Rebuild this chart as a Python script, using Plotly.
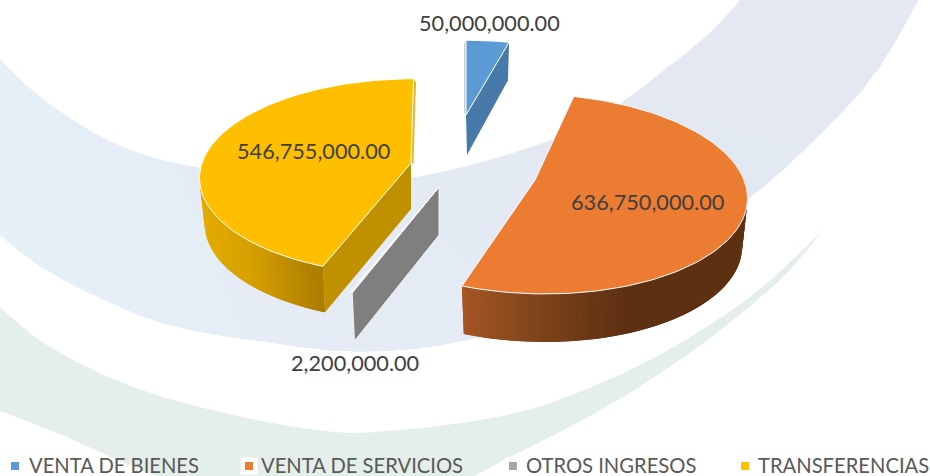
import numpy as np
import plotly.graph_objects as go

# ---- data ----
categories = ["VENTA DE BIENES", "VENTA DE SERVICIOS", "OTROS INGRESOS", "TRANSFERENCIAS"]
values = [50000000.00, 636750000.00, 2200000.00, 546755000.00]

# ---- styles / geometry ----
top_colors = ["#5B9BD5", "#EC7C31", "#A5A5A5", "#FDBF00"]
radial_colors = ["#477AA9", None, "#7F7F7F", "#BF9000"]
apex = [(466, 115), (535, 180), (439, 187), (411, 163)]
scale_x = [0.93, 1.0, 1.05, 1.0]
scale_y = [0.87, 1.0, 1.0, 0.98]
shear = [0.0, 0.09, 0.0, -0.03]
depth = [38, 48, 48, 46]
label_xy = [(489, 23), (647, 202), (355, 363), (313, 151)]
legend_marker_x = [15, 249, 513, 745]
legend_text_x = [27, 259, 524, 756]
A, B, P = 209.0, 98.0, 0.14

fig = go.Figure()


def poly(xs, ys, fill, line=None, width=0.0):
    fig.add_trace(go.Scatter(
        x=list(xs), y=list(ys), mode="lines", fill="toself", fillcolor=fill,
        line=dict(color=line or fill, width=width), hoverinfo="skip", showlegend=False))


def smooth(pts, n=24):
    p = np.array([pts[0]] + list(pts) + [pts[-1]], float)
    out = []
    for i in range(1, len(p) - 2):
        for t in np.linspace(0, 1, n, endpoint=False):
            out.append(0.5 * ((2 * p[i]) + (p[i + 1] - p[i - 1]) * t
                              + (2 * p[i - 1] - 5 * p[i] + 4 * p[i + 1] - p[i + 2]) * t ** 2
                              + (3 * p[i] - p[i - 1] - 3 * p[i + 1] + p[i + 2]) * t ** 3))
    out.append(p[-2])
    return np.array(out)


def resample(c, n):
    d = np.r_[0, np.cumsum(np.hypot(*np.diff(c, axis=0).T))]
    t = np.linspace(0, d[-1], n)
    return np.c_[np.interp(t, d, c[:, 0]), np.interp(t, d, c[:, 1])]


def mix(stops, x):
    xs = [s[0] for s in stops]
    return "rgb(%d,%d,%d)" % tuple(np.interp(x, xs, [s[1][k] for s in stops]) for k in range(3))


# ---- background swooshes ----
band_upper = [(-5, 54), (33, 92), (100, 137), (150, 157), (200, 168), (300, 180), (413, 178),
              (553, 140), (623, 102), (673, 63), (707, 37), (745, -5)]
band_lower = [(-5, 232), (33, 262), (83, 290), (167, 325), (267, 342), (360, 352), (467, 340),
              (620, 290), (747, 200), (807, 147), (873, 77), (921, -5)]
N = 40
up, lo = resample(smooth(band_upper), N), resample(smooth(band_lower), N)
band_stops = [(0, (230, 240, 247)), (0.35, (229, 236, 245)), (1, (227, 232, 242))]
for i in range(N - 1):
    c = mix(band_stops, i / (N - 2))
    j = min(i + 2, N - 1)
    poly([up[i, 0], up[j, 0], lo[j, 0], lo[i, 0], up[i, 0]],
         [up[i, 1], up[j, 1], lo[j, 1], lo[i, 1], up[i, 1]], c)

green_upper = [(-5, 303), (50, 347), (133, 387), (233, 415), (333, 432), (400, 430), (480, 420),
               (550, 403), (650, 360), (750, 297), (823, 230)]
green_lower = [(823, 230), (783, 277), (717, 333), (650, 380), (583, 420), (517, 453), (467, 480)]
green_left = [(165, 480), (133, 467), (67, 437), (-5, 409)]
g = np.vstack([smooth(green_upper), smooth(green_lower), smooth(green_left)])
poly(g[:, 0], g[:, 1], "#E4EFE9")

# ---- exploded pie, angles from the values ----
total = sum(values)
edges = np.r_[0, np.cumsum(values)] / total * 2 * np.pi


def rim(th, i):
    u, v = np.sin(th), np.cos(th)
    s = 1 / (1 + P * v)
    X = A * u * s * scale_x[i]
    Y = -B * v * s * scale_y[i]
    return X + shear[i] * Y, Y


wall_stops = {
    1: [(461, (166, 86, 36)), (530, (130, 70, 28)), (625, (94, 48, 18)), (760, (94, 48, 18))],
    3: [(200, (228, 172, 0)), (250, (214, 160, 0)), (290, (190, 140, 0)), (325, (170, 124, 0))],
}
order = [0, 3, 1, 2]
for i in order:
    t0, t1 = edges[i], edges[i + 1]
    ax, ay = apex[i]
    h = depth[i]
    th = np.linspace(t0, t1, max(8, int((t1 - t0) * 40)))
    X, Y = rim(th, i)
    tx, ty = ax + X, ay + Y
    bx, by = ax + 0.975 * X, ay + Y + h
    if i in wall_stops:
        # painted from the far end towards the seam side, each strip overlapping the next
        idx = range(len(th) - 2, -1, -1) if i == 3 else range(len(th) - 1)
        for k in idx:
            if Y[k] < -20 and Y[k + 1] < -20:
                continue
            m = min(k + 2, len(th) - 1) if i == 1 else k + 1
            n = max(k - 1, 0) if i == 3 else k
            c = mix(wall_stops[i], 0.5 * (tx[k] + tx[k + 1]))
            poly([tx[n], tx[m], bx[m], bx[n], tx[n]],
                 [ty[n], ty[m], by[m], by[n], ty[n]], c)
    if i == 0:   # thin far-side sliver and radial wall
        poly([ax, tx[0], tx[0] - 2, ax - 2, ax], [ay, ty[0], ty[0] + 3, ay - 3, ay], "#C9CED6")
        poly([ax, tx[-1], bx[-1], ax + 1, ax], [ay, ty[-1], by[-1], ay + h + 2, ay], radial_colors[i])
    if i == 2:
        poly([ax, tx[0], bx[0], ax, ax], [ay, ty[0], by[0], ay + h, ay], radial_colors[i], "#FFFFFF", 0.8)
    if i == 3:
        poly([ax, tx[0], bx[0], ax, ax], [ay, ty[0], by[0], ay + h, ay], radial_colors[i])
        poly([ax, tx[-1], tx[-1] + 2.5, ax + 2.5, ax], [ay, ty[-1], ty[-1] + 4, ay + 1, ay], "#E8B52C")
    poly(np.r_[ax, tx, ax], np.r_[ay, ty, ay], top_colors[i] if i != 2 else "#E6E6E6", "#FFFFFF", 1)

# ---- labels ----
for v, (lx, ly) in zip(values, label_xy):
    fig.add_annotation(x=lx, y=ly, text=f"{v:,.2f}", showarrow=False, xanchor="center", yanchor="middle",
                       font=dict(family="Lato", size=21.7, color="#404040"))

# ---- legend ----
fig.add_trace(go.Scatter(x=legend_marker_x[1:3], y=[466, 466], mode="markers", hoverinfo="skip", showlegend=False,
                         marker=dict(symbol="square", size=17, color="#FFFFFF")))
fig.add_trace(go.Scatter(x=legend_marker_x, y=[466] * 4, mode="markers", hoverinfo="skip", showlegend=False,
                         marker=dict(symbol="square", size=8, color=top_colors)))
for name, tx0 in zip(categories, legend_text_x):
    fig.add_annotation(x=tx0, y=465, text=name, showarrow=False, xanchor="left", yanchor="middle",
                       font=dict(family="Lato", size=20.2, color="#595959"))

fig.update_layout(
    width=930, height=476, autosize=False, margin=dict(l=0, r=0, t=0, b=0),
    paper_bgcolor="#FFFFFF", plot_bgcolor="#FFFFFF", showlegend=False,
    xaxis=dict(range=[0, 930], visible=False, fixedrange=True),
    yaxis=dict(range=[476, 0], visible=False, fixedrange=True),
)
fig.write_html("out.html", config={"displayModeBar": False},
               post_script="document.body.style.margin='0';document.body.style.overflow='hidden';")
